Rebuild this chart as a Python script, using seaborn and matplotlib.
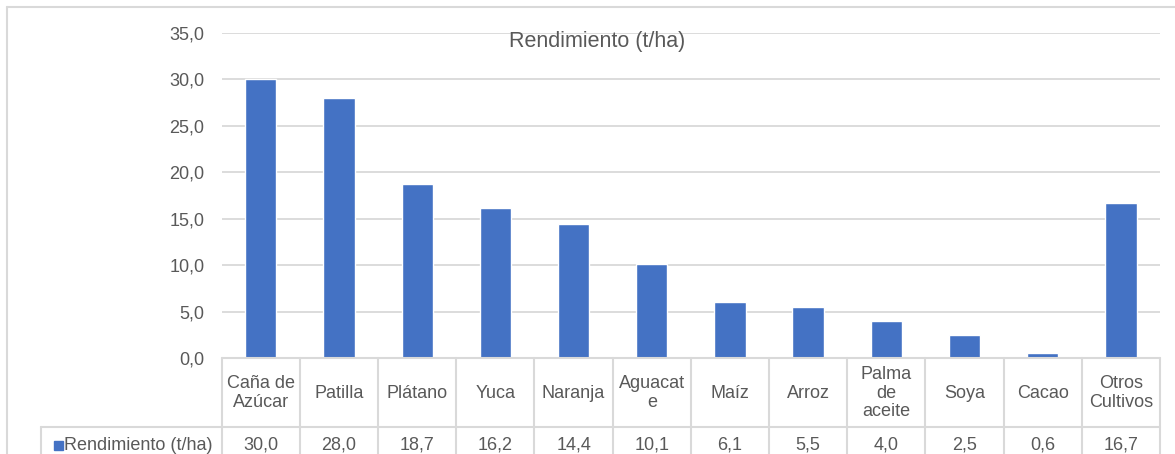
import matplotlib.pyplot as plt
import matplotlib.transforms as mtransforms
from matplotlib.lines import Line2D
from matplotlib.patches import Rectangle
import seaborn as sns

# data
cultivos = ["Caña de\nAzúcar", "Patilla", "Plátano", "Yuca", "Naranja", "Aguacat\ne",
            "Maíz", "Arroz", "Palma\nde\naceite", "Soya", "Cacao", "Otros\nCultivos"]
rendimiento = [30.0, 28.0, 18.7, 16.2, 14.4, 10.1, 6.1, 5.5, 4.0, 2.5, 0.6, 16.7]
serie = "Rendimiento (t/ha)"
y_ticks = [0, 5, 10, 15, 20, 25, 30, 35]

azul = "#4472C4"
gris_txt = "#595959"
gris_lin = "#D9D9D9"

sns.set_theme(style="white")
plt.rcParams["font.family"] = ["Liberation Sans", "DejaVu Sans"]

W, H = 1175, 454
fig = plt.figure(figsize=(W / 100, H / 100), dpi=100)

# plot area in pixels
x0, x1, y_top, y_bot = 221.7, 1160, 32.7, 358.3
ax = fig.add_axes([x0 / W, (H - y_bot) / H, (x1 - x0) / W, (y_bot - y_top) / H])

sns.barplot(x=list(range(len(cultivos))), y=rendimiento, color=azul, width=0.4,
            saturation=1, ax=ax)
ax.set_ylim(0, 35)
ax.set_xlim(-0.5, len(cultivos) - 0.5)
ax.set_yticks(y_ticks)
ax.set_yticklabels([f"{v:.1f}".replace(".", ",") for v in y_ticks],
                   color=gris_txt, fontsize=13)
ax.tick_params(axis="y", length=0, pad=12.5)
ax.set_xticks([])
ax.set_xlabel("")
ax.set_ylabel("")
for s in ax.spines.values():
    s.set_visible(False)
ax.yaxis.grid(True, color=gris_lin, linewidth=1.3)
ax.set_axisbelow(True)

fig.text(597 / W, 1 - 42 / H, "Rendimiento (t/ha)", ha="center", va="center",
         fontsize=15.5, color=gris_txt)

# data table under the axis
def ypix(p):
    return (y_bot - p) / (y_bot - y_top)

tr = mtransforms.blended_transform_factory(ax.transData, ax.transAxes)
fl = mtransforms.blended_transform_factory(fig.transFigure, ax.transAxes)

ax.add_line(Line2D([-0.5, len(cultivos) - 0.5], [0, 0], transform=tr,
                   color=gris_lin, lw=1.5, clip_on=False))
ax.add_line(Line2D([41 / W, x1 / W], [ypix(427.3)] * 2, transform=fl,
                   color=gris_lin, lw=1.5, clip_on=False))
ax.add_line(Line2D([41 / W] * 2, [ypix(427.3), ypix(470)], transform=fl,
                   color=gris_lin, lw=1.5, clip_on=False))
for i in range(len(cultivos) + 1):
    ax.add_line(Line2D([i - 0.5] * 2, [0, ypix(470)], transform=tr,
                       color=gris_lin, lw=1.5, clip_on=False))

for i, (c, v) in enumerate(zip(cultivos, rendimiento)):
    ax.text(i, ypix(393), c, transform=tr, ha="center", va="center",
            fontsize=13, color=gris_txt, linespacing=1.15, multialignment="center")
    ax.text(i, ypix(445), f"{v:.1f}".replace(".", ","), transform=tr,
            ha="center", va="center", fontsize=13, color=gris_txt)

fig.patches.append(Rectangle((54 / W, 1 - 449.5 / H), 9 / W, 9 / H,
                             transform=fig.transFigure, color=azul))
fig.text(64 / W, 1 - 445 / H, serie, ha="left", va="center", fontsize=13,
         color=gris_txt)

# outer frame of the chart
fig.add_artist(Line2D([6.7 / W, 1], [1 - 6.7 / H] * 2, transform=fig.transFigure,
                      color=gris_lin, lw=1.5))
fig.add_artist(Line2D([6.7 / W] * 2, [0, 1 - 6.7 / H], transform=fig.transFigure,
                      color=gris_lin, lw=1.5))

fig.savefig("out.png", dpi=100)
